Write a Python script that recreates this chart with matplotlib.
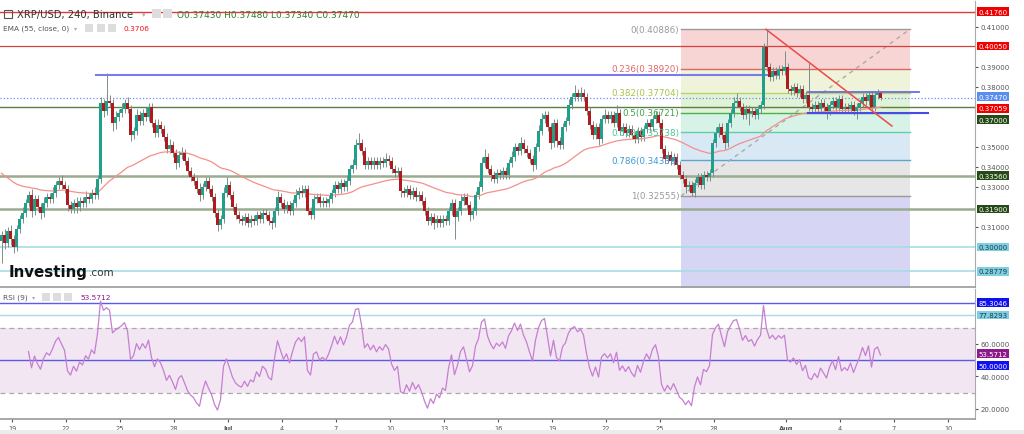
import matplotlib
matplotlib.use("Agg")
import matplotlib.pyplot as plt
import matplotlib.transforms as mtransforms
from matplotlib.patches import Rectangle
import numpy as np
import pandas as pd

# ---- data (XRP/USD, 4h candles) ----
first_open = 0.303
closes = [
    0.306, 0.302, 0.308, 0.304, 0.300, 0.309, 0.314, 0.317, 0.322, 0.326,
    0.318, 0.324, 0.320, 0.317, 0.322, 0.325, 0.324, 0.327, 0.331, 0.333,
    0.331, 0.329, 0.321, 0.319, 0.322, 0.320, 0.323, 0.322, 0.325, 0.324,
    0.327, 0.326, 0.334, 0.372, 0.368, 0.373, 0.372, 0.362, 0.365, 0.367,
    0.369, 0.372, 0.369, 0.356, 0.358, 0.366, 0.363, 0.367, 0.365, 0.370,
    0.362, 0.357, 0.361, 0.359, 0.355, 0.349, 0.351, 0.347, 0.342, 0.346,
    0.347, 0.343, 0.338, 0.335, 0.333, 0.329, 0.326, 0.330, 0.333, 0.329,
    0.325, 0.317, 0.311, 0.314, 0.327, 0.331, 0.326, 0.320, 0.316, 0.314,
    0.313, 0.315, 0.312, 0.314, 0.313, 0.316, 0.314, 0.317, 0.316, 0.313,
    0.312, 0.318, 0.325, 0.322, 0.319, 0.321, 0.318, 0.322, 0.326, 0.328,
    0.327, 0.329, 0.318, 0.316, 0.324, 0.325, 0.322, 0.323, 0.322, 0.324,
    0.327, 0.331, 0.329, 0.332, 0.330, 0.333, 0.339, 0.341, 0.351, 0.352,
    0.348, 0.341, 0.343, 0.341, 0.343, 0.341, 0.343, 0.342, 0.344, 0.343,
    0.339, 0.337, 0.338, 0.328, 0.327, 0.329, 0.326, 0.328, 0.325, 0.326,
    0.323, 0.318, 0.313, 0.315, 0.312, 0.314, 0.312, 0.314, 0.313, 0.318,
    0.322, 0.315, 0.318, 0.323, 0.325, 0.321, 0.316, 0.318, 0.326, 0.330,
    0.342, 0.345, 0.339, 0.336, 0.334, 0.337, 0.336, 0.338, 0.336, 0.342,
    0.345, 0.350, 0.348, 0.352, 0.349, 0.347, 0.344, 0.341, 0.350, 0.358,
    0.364, 0.366, 0.360, 0.352, 0.362, 0.353, 0.351, 0.360, 0.363, 0.371,
    0.375, 0.377, 0.375, 0.377, 0.375, 0.368, 0.361, 0.356, 0.360, 0.354,
    0.364, 0.366, 0.364, 0.366, 0.362, 0.367, 0.358, 0.360, 0.357, 0.359,
    0.356, 0.354, 0.358, 0.355, 0.359, 0.362, 0.360, 0.364, 0.366, 0.362,
    0.349, 0.344, 0.346, 0.343, 0.345, 0.341, 0.336, 0.334, 0.330, 0.331,
    0.327, 0.332, 0.335, 0.331, 0.336, 0.335, 0.337, 0.352, 0.357, 0.360,
    0.356, 0.352, 0.362, 0.367, 0.372, 0.373, 0.370, 0.366, 0.369, 0.367,
    0.368, 0.366, 0.369, 0.371, 0.400, 0.390, 0.385, 0.388, 0.386, 0.389,
    0.388, 0.390, 0.379, 0.378, 0.380, 0.377, 0.379, 0.374, 0.376, 0.370,
    0.369, 0.371, 0.369, 0.372, 0.370, 0.368, 0.371, 0.373, 0.370, 0.374,
    0.369, 0.370, 0.369, 0.371, 0.368, 0.370, 0.372, 0.375, 0.373, 0.376,
    0.370, 0.376, 0.377, 0.3747,
]
# wick lengths beyond the body, in 0.001
up_wick = [
    2, 3, 2, 3, 2, 2, 2, 3, 2, 2,   3, 2, 2, 2, 3, 2, 2, 3, 2, 2,
    3, 2, 2, 2, 2, 3, 2, 2, 3, 2,   2, 3, 2, 3, 2, 14, 3, 2, 3, 2,
    3, 2, 3, 2, 2, 3, 2, 2, 3, 2,   2, 2, 3, 2, 2, 2, 3, 2, 2, 2,
    3, 2, 2, 2, 2, 2, 3, 2, 2, 2,   2, 2, 2, 2, 3, 4, 2, 2, 2, 2,
    2, 2, 2, 2, 2, 2, 2, 2, 2, 2,   2, 2, 3, 2, 2, 2, 2, 2, 3, 2,
    3, 2, 2, 2, 2, 2, 2, 2, 2, 2,   2, 2, 2, 2, 2, 3, 2, 3, 3, 5,
    2, 2, 2, 2, 2, 2, 2, 2, 3, 2,   2, 2, 2, 2, 2, 2, 2, 2, 2, 2,
    2, 2, 2, 2, 2, 2, 2, 2, 2, 2,   2, 2, 2, 3, 2, 2, 2, 2, 2, 3,
    3, 4, 2, 2, 2, 2, 2, 2, 2, 2,   3, 2, 2, 3, 2, 2, 2, 2, 2, 3,
    3, 2, 2, 2, 2, 2, 2, 2, 2, 3,   2, 4, 2, 3, 2, 2, 2, 2, 2, 2,
    2, 3, 2, 2, 2, 4, 2, 2, 2, 2,   2, 2, 2, 2, 2, 2, 2, 2, 2, 2,
    2, 2, 2, 2, 2, 2, 2, 2, 2, 2,   2, 2, 2, 2, 2, 2, 2, 2, 3, 2,
    2, 2, 2, 2, 3, 4, 2, 2, 2, 2,   2, 2, 2, 2, 2, 9, 2, 2, 2, 2,
    2, 8, 2, 2, 2, 2, 2, 2, 2, 16,  2, 2, 2, 2, 2, 2, 2, 2, 2, 2,
    2, 2, 2, 2, 2, 2, 2, 2, 2, 2,   2, 2, 2, 1,
]
dn_wick = [
    11, 3, 2, 3, 3, 2, 2, 2, 2, 2,  3, 2, 2, 3, 2, 2, 2, 2, 2, 2,
    2, 2, 3, 2, 2, 3, 2, 2, 2, 2,   2, 2, 2, 2, 3, 2, 2, 4, 3, 2,
    2, 2, 2, 3, 2, 2, 2, 2, 2, 2,   2, 2, 2, 2, 2, 2, 2, 2, 3, 2,
    2, 2, 2, 2, 2, 2, 3, 2, 2, 2,   2, 2, 3, 2, 2, 2, 2, 2, 2, 2,
    2, 2, 2, 2, 2, 2, 2, 2, 2, 2,   3, 2, 2, 2, 2, 2, 2, 2, 2, 2,
    2, 2, 2, 2, 2, 2, 2, 2, 2, 2,   2, 2, 2, 2, 2, 2, 2, 2, 2, 2,
    2, 2, 2, 2, 2, 2, 2, 2, 2, 2,   2, 2, 2, 3, 2, 2, 2, 2, 2, 2,
    2, 2, 2, 2, 3, 2, 2, 2, 2, 2,   2, 11, 2, 2, 2, 2, 3, 2, 2, 2,
    2, 2, 2, 3, 2, 2, 2, 2, 2, 2,   2, 2, 2, 2, 2, 2, 2, 3, 2, 2,
    2, 2, 2, 3, 2, 3, 2, 2, 2, 2,   2, 2, 2, 2, 2, 2, 2, 2, 2, 3,
    2, 2, 2, 2, 2, 2, 2, 2, 2, 2,   2, 2, 2, 2, 2, 2, 2, 2, 2, 2,
    2, 2, 2, 2, 2, 2, 2, 2, 3, 2,   1.5, 2, 2, 2, 2, 2, 2, 2, 2, 2,
    2, 3, 2, 2, 2, 2, 2, 2, 2, 6,   2, 2, 2, 2, 2, 2, 2, 2, 2, 2,
    2, 2, 2, 2, 2, 2, 2, 2, 2, 2,   2, 2, 2, 2, 2, 4, 2, 2, 2, 2,
    2, 2, 2, 2, 2, 4, 2, 2, 2, 2,   2, 2, 2, 1,
]
ema_seed = 0.338          # EMA level at the left edge of the chart

# date axis: days after 19 Jun
tick_days = [0, 3, 6, 9, 12, 15, 18, 21, 24, 27, 30, 33, 36, 39, 43, 46, 49, 52]
tick_labels = ["19", "22", "25", "28", "Jul", "4", "7", "10", "13", "16",
               "19", "22", "25", "28", "Aug", "4", "7", "10"]

# right axis ticks that are not hidden under a price tag
price_ticks = [0.41, 0.39, 0.38, 0.35, 0.34, 0.33, 0.31]
rsi_ticks = [20, 40, 60]

# fibonacci retracement
fib_high, fib_low = 0.40886, 0.32555
fib_ratios = [0, 0.236, 0.382, 0.5, 0.618, 0.786, 1, 1.618]
fib_texts = ["0(0.40886)", "0.236(0.38920)", "0.382(0.37704)", "0.5(0.36721)",
             "0.618(0.35738)", "0.786(0.34339)", "1(0.32555)", None]

# horizontal levels on the price pane
h_levels = [0.41760, 0.40050, 0.37470, 0.37000, 0.33560, 0.31900, 0.30000, 0.28779]
price_tags = ["0.41760", "0.40050", "0.37470", "0.37059", "0.37000",
              "0.33560", "0.31900", "0.30000", "0.28779"]
rsi_levels = [85.3046, 77.8293, 50.0]
rsi_tags = ["85.3046", "77.8293", "53.5712", "50.0000"]

# drawn objects (candle index / price)
resist_line = (31.5, 258.8, 0.3862)
box_top = (268.8, 305.8, 0.3773)
box_bot = (268.8, 308.8, 0.3669)
red_trend = ((254.8, 0.40886), (296.8, 0.3605))
fib_x = (226.5, 302.8)

# ---- colours ----
UP, DOWN, WICK = "#20a08a", "#b01a1f", "#7d8f86"
W, H = 1024, 435

fig = plt.figure(figsize=(W / 100, H / 100), dpi=100)
fig.patch.set_facecolor("white")


def fx(px):
    return px / W


def fy(py):
    return 1 - py / H


ax = fig.add_axes([0, fy(288), fx(975), (288 - 2) / H])
rax = fig.add_axes([0, fy(420), fx(975), (420 - 290) / H], sharex=ax)

n = len(closes)
idx = np.arange(n)
c = np.array(closes)
o = np.r_[first_open, c[:-1]]
hi = np.maximum(o, c) + np.array(up_wick) / 1000
lo = np.minimum(o, c) - np.array(dn_wick) / 1000
colors = np.where(c >= o, UP, DOWN)

ax.vlines(idx, lo, hi, color=WICK, lw=0.7, zorder=4)
ax.bar(idx, np.maximum(np.abs(c - o), 0.0004), bottom=np.minimum(o, c),
       width=0.7, color=colors, linewidth=0, zorder=5)

ema = pd.Series([ema_seed] + closes).ewm(span=55, adjust=False).mean().iloc[1:]
ax.plot(idx, ema.values, color="#f4908a", lw=0.9, zorder=4)

# fib fills and levels
fib_prices = [fib_high - r * (fib_high - fib_low) for r in fib_ratios]
fills = ["#f6d5d4", "#eef3d9", "#e1f3d7", "#d7f2e6", "#d8e9f5", "#e6e6e6", "#d6d6f4"]
lcols = ["#999999", "#e06666", "#b9d46c", "#4caf50", "#5fcfa8", "#5aa5d8", "#999999"]
tcols = ["#999999", "#e06666", "#a8c44a", "#43a047", "#4cc59a", "#3d9ad6", "#999999"]
x0, x1 = fib_x
for k in range(len(fills)):
    ax.fill_between([x0, x1], fib_prices[k], fib_prices[k + 1], color=fills[k],
                    lw=0, zorder=1)
for k in range(7):
    ax.plot([x0, x1], [fib_prices[k]] * 2, color=lcols[k], lw=1.0, zorder=2)
    ax.text(x0 - 0.6, fib_prices[k], fib_texts[k], ha="right", va="center",
            fontsize=6.3, color=tcols[k], zorder=6)
ax.plot([x0, x1], [fib_low, fib_high], color="#aaaaaa", lw=1.0,
        ls=(0, (3, 3)), zorder=3)

# horizontal levels
lvl_style = {
    0.41760: ("#e53935", 1.0, "-"),
    0.40050: ("#d84040", 0.9, "-"),
    0.37470: ("#6b8cf5", 0.9, ":"),
    0.37000: ("#5a7d4a", 1.0, "-"),
    0.33560: ("#9aab8f", 1.8, "-"),
    0.31900: ("#9aab8f", 1.8, "-"),
    0.30000: ("#a8dbe6", 1.2, "-"),
    0.28779: ("#a8dbe6", 1.2, "-"),
}
for lv in h_levels:
    col, lw, ls = lvl_style[lv]
    ax.axhline(lv, color=col, lw=lw, ls=ls, zorder=3)

ax.plot(resist_line[:2], [resist_line[2]] * 2, color="#7b7bf0", lw=1.5, zorder=3)
ax.plot(box_top[:2], [box_top[2]] * 2, color="#6a6ae8", lw=1.3, zorder=6)
ax.plot(box_bot[:2], [box_bot[2]] * 2, color="#4a4ae8", lw=1.5, zorder=6)
ax.plot([red_trend[0][0], red_trend[1][0]], [red_trend[0][1], red_trend[1][1]],
        color="#f04848", lw=1.1, zorder=6)

ax.set_xlim(-0.5, 324.5)
ax.set_ylim(0.280, 0.423)
ax.yaxis.tick_right()
ax.set_yticks(price_ticks)
ax.yaxis.set_major_formatter(matplotlib.ticker.FormatStrFormatter("%.5f"))
ax.tick_params(axis="y", labelsize=5, colors="#555555", length=2.5, pad=1.5)
ax.tick_params(axis="x", bottom=False, labelbottom=False)
for s in ["top", "left"]:
    ax.spines[s].set_visible(False)
ax.spines["right"].set_color("#aaaaaa")
ax.spines["bottom"].set_color("#999999")
ax.spines["bottom"].set_linewidth(1.2)

# price tags on the axis
tag_colors = {
    "0.41760": ("#f20000", "white"), "0.40050": ("#f20000", "white"),
    "0.37470": ("#5b8def", "white"), "0.37059": ("#f20000", "white"),
    "0.37000": ("#254a17", "white"), "0.33560": ("#254a17", "white"),
    "0.31900": ("#254a17", "white"), "0.30000": ("#7ecfe0", "#1c3b4a"),
    "0.28779": ("#7ecfe0", "#1c3b4a"),
}
tag_nudge = {"0.37470": 0.0004, "0.37059": -0.0012, "0.37000": -0.0064}
btr = mtransforms.blended_transform_factory(ax.transAxes, ax.transData)
for t in price_tags:
    fc, tc = tag_colors[t]
    ax.text(1.0035, float(t) + tag_nudge.get(t, 0), t, transform=btr, ha="left",
            va="center", fontsize=5, color=tc, clip_on=False, zorder=10,
            bbox=dict(boxstyle="square,pad=0.2", fc=fc, ec="none"))

# ---- RSI pane ----
delta = pd.Series(closes).diff()
gain = delta.clip(lower=0).ewm(alpha=1 / 9, adjust=False, min_periods=9).mean()
loss = (-delta.clip(upper=0)).ewm(alpha=1 / 9, adjust=False, min_periods=9).mean()
rsi = 100 - 100 / (1 + gain / loss)

rax.axhspan(30, 70, color="#f3e6f3", lw=0, zorder=1)
rax.axhline(70, color="#aaaaaa", lw=0.9, ls=(0, (4, 3)), zorder=2)
rax.axhline(30, color="#aaaaaa", lw=0.9, ls=(0, (4, 3)), zorder=2)
rsi_style = {85.3046: ("#5a5af0", 1.0), 77.8293: ("#a8dbe6", 1.0), 50.0: ("#5a5ae8", 1.0)}
for lv in rsi_levels:
    col, lw = rsi_style[lv]
    rax.axhline(lv, color=col, lw=lw, zorder=3)
rax.plot(idx, rsi.values, color="#c57fd1", lw=0.9, zorder=4)

rax.set_ylim(13.85, 93.8)
rax.yaxis.tick_right()
rax.set_yticks(rsi_ticks)
rax.yaxis.set_major_formatter(matplotlib.ticker.FormatStrFormatter("%.4f"))
rax.tick_params(axis="y", labelsize=5, colors="#555555", length=2.5, pad=1.5)
rax.set_xticks([3.5 + 6 * d for d in tick_days])
rax.set_xticklabels(tick_labels)
rax.tick_params(axis="x", labelsize=4.8, colors="#555555", length=2, pad=2)
for lab in rax.get_xticklabels():
    if lab.get_text() in ("Jul", "Aug"):
        lab.set_fontweight("bold")
for s in ["top", "left"]:
    rax.spines[s].set_visible(False)
rax.spines["right"].set_color("#aaaaaa")
rax.spines["bottom"].set_color("#999999")
rax.spines["bottom"].set_linewidth(1.2)

rsi_tag_style = {"85.3046": ("#1010f0", "white", 0), "77.8293": ("#7ecfe0", "#1c3b4a", 0),
                 "53.5712": ("#8b1a8b", "white", 0.4), "50.0000": ("#1010f0", "white", -3.4)}
rtr = mtransforms.blended_transform_factory(rax.transAxes, rax.transData)
for t in rsi_tags:
    fc, tc, nud = rsi_tag_style[t]
    rax.text(1.0035, float(t) + nud, t, transform=rtr, ha="left", va="center",
             fontsize=5, color=tc, clip_on=False, zorder=10,
             bbox=dict(boxstyle="square,pad=0.2", fc=fc, ec="none"))

# ---- header texts, icons, logo ----
fig.text(fx(17), fy(15), "XRP/USD, 240, Binance", fontsize=7.2, color="#333333",
         va="center")
fig.text(fx(177), fy(15), "O0.37430 H0.37480 L0.37340 C0.37470", fontsize=6.5,
         color="#2f7d32", va="center")
fig.text(fx(142), fy(15), "\u25be", fontsize=5, color="#aaaaaa", va="center")
fig.text(fx(3), fy(29), "EMA (55, close, 0)", fontsize=5.3, color="#555555", va="center")
fig.text(fx(74), fy(29), "\u25be", fontsize=4.5, color="#aaaaaa", va="center")
fig.text(fx(123), fy(29), "0.3706", fontsize=5.3, color="#f21010", va="center")
fig.text(fx(3), fy(298), "RSI (9)", fontsize=5.3, color="#555555", va="center")
fig.text(fx(32), fy(298), "\u25be", fontsize=4.5, color="#aaaaaa", va="center")
fig.text(fx(80), fy(298), "53.5712", fontsize=5.3, color="#8b1a8b", va="center")
icon_boxes = [(152, 10, 9), (163, 10, 9), (85, 25, 8), (97, 25, 8), (108, 25, 8),
              (42, 294, 8), (53, 294, 8), (64, 294, 8)]
for bx, by, bs in icon_boxes:
    fig.patches.append(Rectangle((fx(bx), fy(by + bs)), bs / W, bs / H,
                                 transform=fig.transFigure, fc="#dddddd", ec="none"))
fig.patches.append(Rectangle((fx(4), fy(19)), 8 / W, 8 / H, transform=fig.transFigure,
                             fc="none", ec="#555555", lw=0.8))
fig.text(fx(9), fy(272), "Investing", fontsize=10.8, fontweight="bold", color="#111111",
         va="center")
fig.text(fx(89), fy(273), ".com", fontsize=7.5, color="#333333", va="center")
fig.patches.append(Rectangle((0, 0), 1, 4 / H, transform=fig.transFigure,
                             fc="#ececec", ec="none"))

fig.savefig("out.png", dpi=100)
